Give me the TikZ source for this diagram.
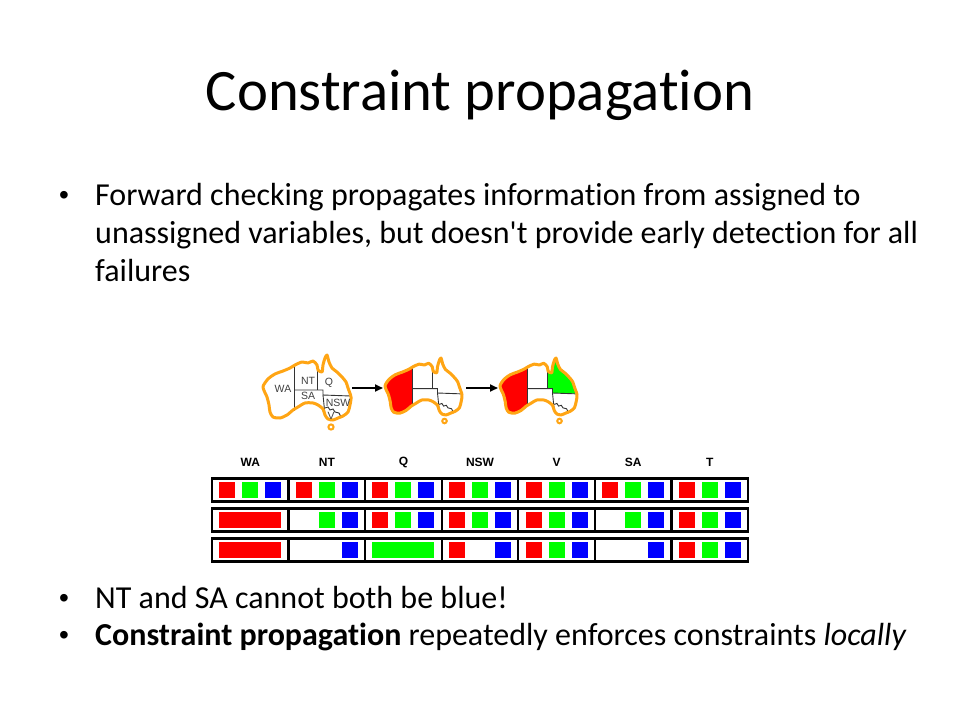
\documentclass[tikz,border=0pt]{standalone}
\usepackage{fontspec}
\setmainfont{Carlito}[Ligatures={TeX,NoCommon}]
\newfontfamily\arialfont{Liberation Sans}
\usetikzlibrary{arrows.meta}
\definecolor{ausorange}{RGB}{255,165,20}
\definecolor{cred}{RGB}{255,0,0}
\definecolor{cgreen}{RGB}{0,255,0}
\definecolor{cblue}{RGB}{0,0,255}
\newcommand{\ausoutline}{plot[smooth cycle, tension=0.45] coordinates {(0,32) (5,24) (12,19) (20,16) (27,13) (32,10) (39,7) (45,8) (50,6) (54,10) (55,15) (59,17) (60,10) (62,3) (64,0) (66,7) (69,13) (74,17) (79,22) (83,27) (85,33) (88,42) (87,50) (85,57) (80,61) (75,63) (70,65) (65,64) (62,60) (60,54) (55,50) (50,48) (42,48) (35,52) (30,55) (24,60) (17,63) (10,62) (7,57) (6,50) (4,42)}}
\newcommand{\ausborders}{%
  \draw[ausline] (31,10) -- (31,56);
  \draw[ausline] (31,35) -- (60,35) -- (60,40) -- (87.5,41);
  \draw[ausline] (54,11) -- (54,35);
  \draw[ausline] (60,40) -- (62,60);
  \draw[ausline] (62,53) -- (65,52) -- (67,55) -- (70,54) -- (72,57) -- (76,58) -- (78,62);
}
\newcommand{\austas}{\draw[ausorange, line width=2] (68,72) circle (2.6);}
\newcommand{\sqr}[4]{\fill[#4] ({212+76.57*(#1+0.5)+#3-8},{#2-8}) rectangle +(16,16);}
\newcommand{\wideblock}[3]{\fill[#3] ({212+76.57*(#1+0.5)-31},{#2-8}) rectangle +(62,16);}
\tikzset{
  ausline/.style={black!80, line width=0.9},
  ausedge/.style={ausorange, line width=3, line join=round},
  cellbox/.style={black, line width=2.4},
  hdr/.style={font=\arialfont\bfseries\fontsize{12}{14}\selectfont, inner sep=0},
  maplbl/.style={font=\arialfont\fontsize{10.5}{12}\selectfont, text=black!75, inner sep=0},
  bodytext/.style={font=\fontsize{32}{38}\selectfont, anchor=base west, inner sep=0},
  bul/.style={font=\arialfont\fontsize{28}{30}\selectfont, anchor=base, inner sep=0},
  flow/.style={-{Triangle[length=8,width=7]}, line width=1.8, black},
}
\begin{document}
\begin{tikzpicture}[x=1pt, y=-1pt]
\fill[white] (0,0) rectangle (960,720);
\useasboundingbox (0,0) rectangle (960,720);

% title
\node[font=\fontsize{58.7}{70}\selectfont, anchor=base, inner sep=0] (title) at (480,110) {Constraint propagation};

% first bullet
\node[bul] (b1) at (64,204) {\textbullet};
\node[bodytext] (l1) at (95,205) {Forward checking propagates information from assigned to};
\node[bodytext] (l2) at (95,243) {unassigned variables, but doesn\textquotesingle t provide early detection for all};
\node[bodytext] (l3) at (95,281) {failures};

% map 1
\begin{scope}[shift={(263,355)}]
  \ausborders
  \draw[ausedge] \ausoutline;
  \austas
  \node[maplbl] (wa) at (20,34) {WA};
  \node[maplbl] (nt) at (45,26) {NT};
  \node[maplbl] (q) at (66,28) {Q};
  \node[maplbl] (sa) at (45,41) {SA};
  \node[maplbl] (nsw) at (75,48) {NSW};
  \node[maplbl] (v) at (68,61) {V};
\end{scope}

% map 2
\begin{scope}[shift={(385,358)}, scale=0.875]
  \begin{scope}
    \clip \ausoutline;
    \fill[cred] (-5,-5) rectangle (31,80);
  \end{scope}
  \ausborders
  \draw[ausedge] \ausoutline;
  \austas
\end{scope}

% map 3
\begin{scope}[shift={(500,358)}, scale=0.875]
  \begin{scope}
    \clip \ausoutline;
    \fill[cred] (-5,-5) rectangle (31,80);
    \fill[cgreen] (54,-5) -- (95,-5) -- (95,41) -- (60,40) -- (60,35) -- (54,35) -- cycle;
  \end{scope}
  \ausborders
  \draw[ausedge] \ausoutline;
  \austas
\end{scope}

% arrows
\coordinate (a1s) at (352,388);
\coordinate (a1e) at (383,388);
\coordinate (a2s) at (466,388);
\coordinate (a2e) at (498,388);
\draw[flow] (a1s) -- (a1e);
\draw[flow] (a2s) -- (a2e);

% headers
\foreach \n [count=\i from 0] in {WA,NT,Q,NSW,V,SA,T} {
  \node[hdr] (h\n) at ({212+76.57*(\i+0.5)},462) {\n};
}

% squares row 1
\foreach \i in {0,...,6} {
  \sqr{\i}{490}{-23}{cred}
  \sqr{\i}{490}{0}{cgreen}
  \sqr{\i}{490}{23}{cblue}
}
% row 2
\wideblock{0}{520}{cred}
\sqr{1}{520}{0}{cgreen} \sqr{1}{520}{23}{cblue}
\foreach \i in {2,3,4,6} {
  \sqr{\i}{520}{-23}{cred}
  \sqr{\i}{520}{0}{cgreen}
  \sqr{\i}{520}{23}{cblue}
}
\sqr{5}{520}{0}{cgreen} \sqr{5}{520}{23}{cblue}
% row 3
\wideblock{0}{550}{cred}
\sqr{1}{550}{23}{cblue}
\wideblock{2}{550}{cgreen}
\sqr{3}{550}{-23}{cred} \sqr{3}{550}{23}{cblue}
\foreach \i in {4,6} {
  \sqr{\i}{550}{-23}{cred}
  \sqr{\i}{550}{0}{cgreen}
  \sqr{\i}{550}{23}{cblue}
}
\sqr{5}{550}{23}{cblue}

% cell boxes
\foreach \yc in {490,520,550} {
  \foreach \i in {0,...,6} {
    \draw[cellbox] ({212+76.57*\i},{\yc-11.5}) rectangle ({212+76.57*(\i+1)},{\yc+11.5});
  }
}

% bottom bullets
\node[bul] (b2) at (64,607) {\textbullet};
\node[bodytext] (l4) at (95,608) {NT and SA cannot both be blue!};
\node[bul] (b3) at (64,644) {\textbullet};
\node[bodytext] (l5) at (95,645) {\textbf{Constraint propagation} repeatedly enforces constraints \textit{locally}};
\end{tikzpicture}
\end{document}
